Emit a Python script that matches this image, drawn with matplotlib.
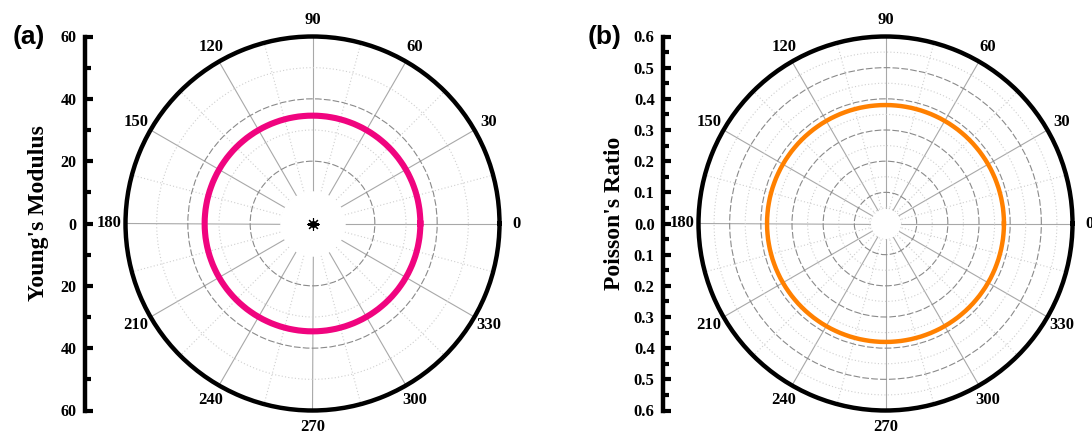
import numpy as np
import matplotlib
matplotlib.use("Agg")
import matplotlib.pyplot as plt
from matplotlib.ticker import MultipleLocator, FuncFormatter

# Direction-dependent mechanical properties, sampled every 10 degrees
angles_deg = [0, 10, 20, 30, 40, 50, 60, 70, 80, 90, 100, 110, 120,
              130, 140, 150, 160, 170, 180, 190, 200, 210, 220, 230, 240,
              250, 260, 270, 280, 290, 300, 310, 320, 330, 340, 350, 360]
youngs_modulus = [34.6, 34.6, 34.6, 34.6, 34.6, 34.6, 34.6, 34.6, 34.6,
                  34.6, 34.6, 34.6, 34.6, 34.6, 34.6, 34.6, 34.6, 34.6,
                  34.6, 34.6, 34.6, 34.6, 34.6, 34.6, 34.6, 34.6, 34.6,
                  34.6, 34.6, 34.6, 34.6, 34.6, 34.6, 34.6, 34.6, 34.6,
                  34.6]
poisson_ratio = [0.38, 0.38, 0.38, 0.38, 0.38, 0.38, 0.38, 0.38, 0.38,
                 0.38, 0.38, 0.38, 0.38, 0.38, 0.38, 0.38, 0.38, 0.38,
                 0.38, 0.38, 0.38, 0.38, 0.38, 0.38, 0.38, 0.38, 0.38,
                 0.38, 0.38, 0.38, 0.38, 0.38, 0.38, 0.38, 0.38, 0.38,
                 0.38]
origin_r = [0.0]

angle_ticks = [0, 30, 60, 90, 120, 150, 180, 210, 240, 270, 300, 330]
angle_labels = [str(a) for a in angle_ticks]

SERIF = "Liberation Serif"
SANS = "Liberation Sans"

W, H = 1092, 437
fig = plt.figure(figsize=(W / 100, H / 100), dpi=100)


def px_box(cx, cy, r):
    return [(cx - r) / W, (H - cy - r) / H, 2 * r / W, 2 * r / H]


def polar_panel(cx, cy, R, rmax, rmajor, rminor, hole, values, color, lw,
                axis_x, ylabel, ylabel_x, tag, tag_x, fmt, label_size):
    ax = fig.add_axes(px_box(cx, cy, R), projection="polar")
    ax.set_ylim(0, rmax)
    theta = np.deg2rad(angles_deg)

    # angular grid
    ax.set_xticks(np.deg2rad(angle_ticks))
    ax.set_xticklabels(angle_labels, fontfamily=SERIF, fontweight="bold",
                       fontsize=12)
    ax.set_xticks(np.deg2rad(np.array(angle_ticks) + 15), minor=True)
    # radial grid
    ax.set_yticks(np.arange(rmajor, rmax, rmajor))
    ax.set_yticks(np.arange(rminor, rmax, rmajor), minor=True)
    ax.set_yticklabels([])
    ax.set_yticklabels([], minor=True)

    ax.grid(which="major", axis="x", color="#a8a8a8", lw=0.8, ls="-")
    ax.grid(which="minor", axis="x", color="#cfcfcf", lw=0.8, ls=(0, (1, 2)))
    ax.grid(which="major", axis="y", color="#8a8a8a", lw=0.8, ls=(0, (6, 2)))
    ax.grid(which="minor", axis="y", color="#cfcfcf", lw=0.8, ls=(0, (1, 2)))

    ax.tick_params(axis="x", which="major", direction="in", length=6,
                   width=2.5, pad=5, color="black")
    ax.tick_params(axis="x", which="minor", direction="in", length=4,
                   width=2, color="black")
    ax.tick_params(axis="y", which="both", length=0)
    ax.spines["polar"].set_linewidth(3.2)

    # clear the centre region where the spokes stop
    ring = np.linspace(0, 2 * np.pi, 200)
    ax.fill_between(ring, 0, hole, color="white", zorder=1.6, lw=0)

    curve, = ax.plot(theta, values, color=color, lw=lw, zorder=3,
                     solid_joinstyle="round")
    # follow the arc between samples instead of drawing chords
    curve.get_path()._interpolation_steps = 10

    # linear radial scale on the left
    axr = fig.add_axes([axis_x / W, (H - cy - R) / H, 0.0005, 2 * R / H])
    axr.set_ylim(-rmax, rmax)
    for s in ("top", "right", "bottom"):
        axr.spines[s].set_visible(False)
    axr.spines["left"].set_linewidth(3.2)
    axr.patch.set_visible(False)
    axr.set_xticks([])
    axr.yaxis.set_major_locator(MultipleLocator(rmajor))
    axr.yaxis.set_minor_locator(MultipleLocator(rminor))
    axr.yaxis.set_major_formatter(
        FuncFormatter(lambda v, p: fmt.format(abs(v) + 0.0)))
    axr.tick_params(axis="y", which="major", direction="in", length=6,
                    width=3, pad=6, labelsize=label_size)
    axr.tick_params(axis="y", which="minor", direction="in", length=4, width=3)
    for t in axr.get_yticklabels():
        t.set_fontfamily(SERIF)
        t.set_fontweight("bold")

    fig.text(ylabel_x / W, 1 - 213 / H, ylabel, rotation=90, ha="center",
             va="center", fontfamily=SERIF, fontweight="bold", fontsize=17)
    fig.text(tag_x / W, 1 - 37 / H, tag, ha="center", va="center",
             fontfamily=SANS, fontweight="bold", fontsize=19)
    return ax


ax_a = polar_panel(312.5, 223.5, 187, 60, 20, 10, 10.5, youngs_modulus,
                   "#f0047f", 4.4, 85, "Young's Modulus", 39, "(a)", 29,
                   "{:.0f}", 11.5)
ax_a.plot([0.0], origin_r, marker=(8, 2, 0), ms=9, color="black", mew=0.8,
          zorder=4)
ax_a.plot([0.0], origin_r, marker="o", ms=4, color="black", zorder=4)

ax_b = polar_panel(885.5, 223.5, 187, 0.6, 0.1, 0.05, 0.048, poisson_ratio,
                   "#ff8000", 3.2, 663, "Poisson's Ratio", 614, "(b)", 605,
                   "{:.1f}", 12)

fig.savefig("out.png", dpi=100)
